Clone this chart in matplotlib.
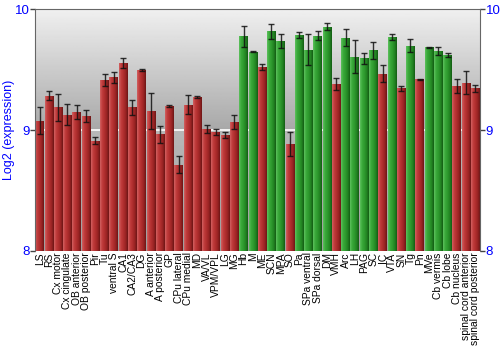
import matplotlib
matplotlib.use("Agg")
import matplotlib.pyplot as plt
import numpy as np
from matplotlib.colors import LinearSegmentedColormap

plt.rcParams['font.family'] = ['Liberation Sans', 'DejaVu Sans']

regions = ['LS', 'RS', 'Cx motor', 'Cx cingulate', 'OB anterior', 'OB posterior',
           'Pir', 'Tu', 'ventral S', 'CA1', 'CA2/CA3', 'DG', 'A anterior',
           'A posterior', 'GP', 'CPu lateral', 'CPu medial', 'MD', 'VA/VL',
           'VPM/VPL', 'LG', 'MG', 'Hb', 'M', 'ME', 'SCN', 'MPA', 'SO', 'Pa',
           'SPa ventral', 'SPa dorsal', 'DM', 'VMH', 'Arc', 'LH', 'PAG', 'SC',
           'IC', 'VTA', 'SN', 'Tg', 'Pn', 'MVe', 'Cb vermis', 'Cb lobe',
           'Cb nucleus', 'spinal cord anterior', 'spinal cord posterior']

expression = [9.077, 9.283, 9.187, 9.126, 9.149, 9.118, 8.912, 9.416, 9.435,
              9.554, 9.187, 9.496, 9.157, 8.964, 9.198, 8.713, 9.209, 9.270,
              9.008, 8.986, 8.959, 9.063, 9.777, 9.647, 9.521, 9.815, 9.738,
              8.884, 9.785, 9.664, 9.779, 9.854, 9.383, 9.763, 9.606, 9.592,
              9.658, 9.465, 9.768, 9.344, 9.697, 9.421, 9.683, 9.650, 9.622,
              9.363, 9.391, 9.344]

sem = [0.110, 0.037, 0.113, 0.088, 0.056, 0.050, 0.030, 0.050, 0.043, 0.041,
       0.062, 0.011, 0.147, 0.073, 0.007, 0.072, 0.078, 0.008, 0.030, 0.026,
       0.026, 0.058, 0.087, 0.005, 0.026, 0.065, 0.060, 0.098, 0.025, 0.127,
       0.036, 0.028, 0.050, 0.069, 0.135, 0.047, 0.070, 0.069, 0.023, 0.019,
       0.054, 0.004, 0.004, 0.033, 0.017, 0.056, 0.095, 0.032]

# regions flagged as enriched get the green bars
enriched = {'Hb', 'M', 'SCN', 'MPA', 'Pa', 'SPa ventral', 'SPa dorsal', 'DM',
            'Arc', 'LH', 'PAG', 'SC', 'VTA', 'Tg', 'MVe', 'Cb vermis', 'Cb lobe'}

red_cmap = LinearSegmentedColormap.from_list(
    'red_bar', ['#d06060', '#c03c3c', '#b02e2e', '#9a2424', '#6e1616'])
green_cmap = LinearSegmentedColormap.from_list(
    'green_bar', ['#5cc05c', '#3aa83a', '#2e9a2e', '#238423', '#145e14'])

fig = plt.figure(figsize=(5, 3.5), dpi=100)
ax = fig.add_axes([0.07, 0.283, 0.89, 0.691])

x = np.arange(len(regions))
ax.set_xlim(-0.5, len(regions) - 0.5)
ax.set_ylim(8, 10)

# gray gradient background, split at the 9 line
bg = np.concatenate([np.linspace(0.94, 0.66, 100), np.linspace(0.72, 0.62, 100)])
ax.imshow(bg[:, None], cmap='gray', vmin=0, vmax=1, aspect='auto',
          extent=(-0.5, len(regions) - 0.5, 8, 10), zorder=0)
ax.axhline(9, color='white', lw=1.2, zorder=1)

bars = ax.bar(x, [v - 8 for v in expression], bottom=8, width=0.94,
              color='none', edgecolor='none', zorder=2)
shade = np.linspace(0, 1, 32)[None, :]
for b, name in zip(bars, regions):
    cmap = green_cmap if name in enriched else red_cmap
    x0, w = b.get_x(), b.get_width()
    im = ax.imshow(shade, cmap=cmap, aspect='auto', zorder=2,
                   extent=(x0, x0 + w, 8, 8 + b.get_height()))
    im.set_clip_path(b)

ax.errorbar(x, expression, yerr=sem, fmt='none', ecolor='#111111',
            elinewidth=1.0, capsize=2, capthick=1.0, alpha=0.85, zorder=3)

ax.set_xticks(x)
ax.set_xticklabels(regions, rotation=90, fontsize=7.4)
ax.tick_params(axis='x', length=0, pad=1)
ax.set_yticks([8, 9, 10])
ax.set_yticklabels(['8', '9', '10'])
ax.tick_params(axis='y', colors='#444444', labelcolor='#0000ff', labelsize=9.5,
               length=3.5, width=1, pad=0.5, right=True, labelright=True)
ax.set_ylabel('Log2 (expression)', color='#0000ff', fontsize=9)
ax.yaxis.set_label_coords(-0.045, 0.5)

for side in ['top', 'left', 'right']:
    ax.spines[side].set_color('#666666')
ax.spines['bottom'].set_visible(False)

fig.savefig('out.png', dpi=100)
